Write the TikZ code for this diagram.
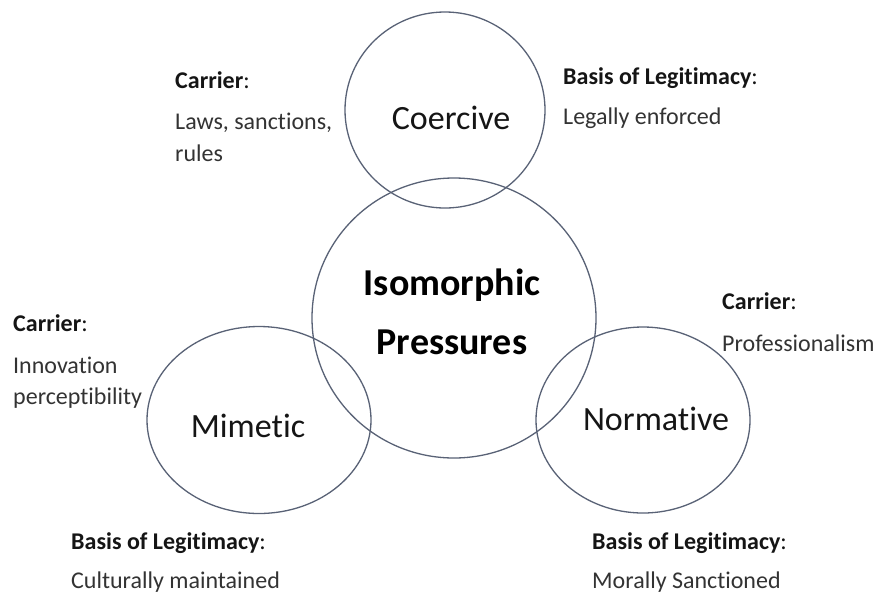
\documentclass[tikz,border=0pt]{standalone}
\usepackage{fontspec}
\setmainfont{Carlito}[Ligatures=NoCommon]
\usetikzlibrary{shapes.geometric}
\definecolor{ringc}{HTML}{596276}
\definecolor{txt}{HTML}{333333}
\definecolor{strong}{HTML}{151515}
\begin{document}
\begin{tikzpicture}[x=1pt,y=-1pt,
  ring/.style={draw=ringc, line width=1.3pt, ellipse, inner sep=0pt},
  head/.style={anchor=base west, inner sep=0pt, text=strong,
    font=\fontsize{24}{28}\selectfont},
  body/.style={anchor=base west, inner sep=0pt, text=txt,
    font=\fontsize{24}{28}\selectfont},
  circlab/.style={anchor=base, inner sep=0pt, text=strong,
    font=\fontsize{34}{40}\selectfont},
  centrelab/.style={anchor=base, inner sep=0pt, text=black,
    font=\fontsize{38}{45}\selectfont\bfseries}]
  \fill[white] (0,0) rectangle (883,595);
  \useasboundingbox (0,0) rectangle (883,595);

  % the four pressures
  \node[ring, minimum width=200pt, minimum height=196pt] (coercive) at (445,110) {};
  \node[ring, minimum width=284pt, minimum height=280pt] (iso) at (454,318) {};
  \node[ring, minimum width=224pt, minimum height=187pt] (mimetic) at (259,420) {};
  \node[ring, minimum width=214pt, minimum height=186pt] (normative) at (643,420) {};

  % labels inside the circles
  \node[circlab] (tcoer) at (451,129) {Coercive};
  \node[centrelab] (tiso1) at (452,295) {Isomorphic};
  \node[centrelab] (tiso2) at (452,354) {Pressures};
  \node[circlab] (tmim) at (248,437) {Mimetic};
  \node[circlab] (tnorm) at (656,430) {Normative};

  % coercive: carrier and legitimacy
  \node[head] (ccar) at (175,88) {\textbf{Carrier}:};
  \node[body] (ccar1) at (175,129) {Laws, sanctions,};
  \node[body] (ccar2) at (175,161) {rules};
  \node[head] (cleg) at (563,84) {\textbf{Basis of Legitimacy}:};
  \node[body] (cleg1) at (563,124) {Legally enforced};

  % mimetic: carrier and legitimacy
  \node[head] (mcar) at (13,331) {\textbf{Carrier}:};
  \node[body] (mcar1) at (13,373) {Innovation};
  \node[body] (mcar2) at (13,404) {perceptibility};
  \node[head] (mleg) at (71,549) {\textbf{Basis of Legitimacy}:};
  \node[body] (mleg1) at (71,588) {Culturally maintained};

  % normative: carrier and legitimacy
  \node[head] (ncar) at (722,309) {\textbf{Carrier}:};
  \node[body] (ncar1) at (722,351) {Professionalism};
  \node[head] (nleg) at (592,549) {\textbf{Basis of Legitimacy}:};
  \node[body] (nleg1) at (592,588) {Morally Sanctioned};
\end{tikzpicture}
\end{document}
